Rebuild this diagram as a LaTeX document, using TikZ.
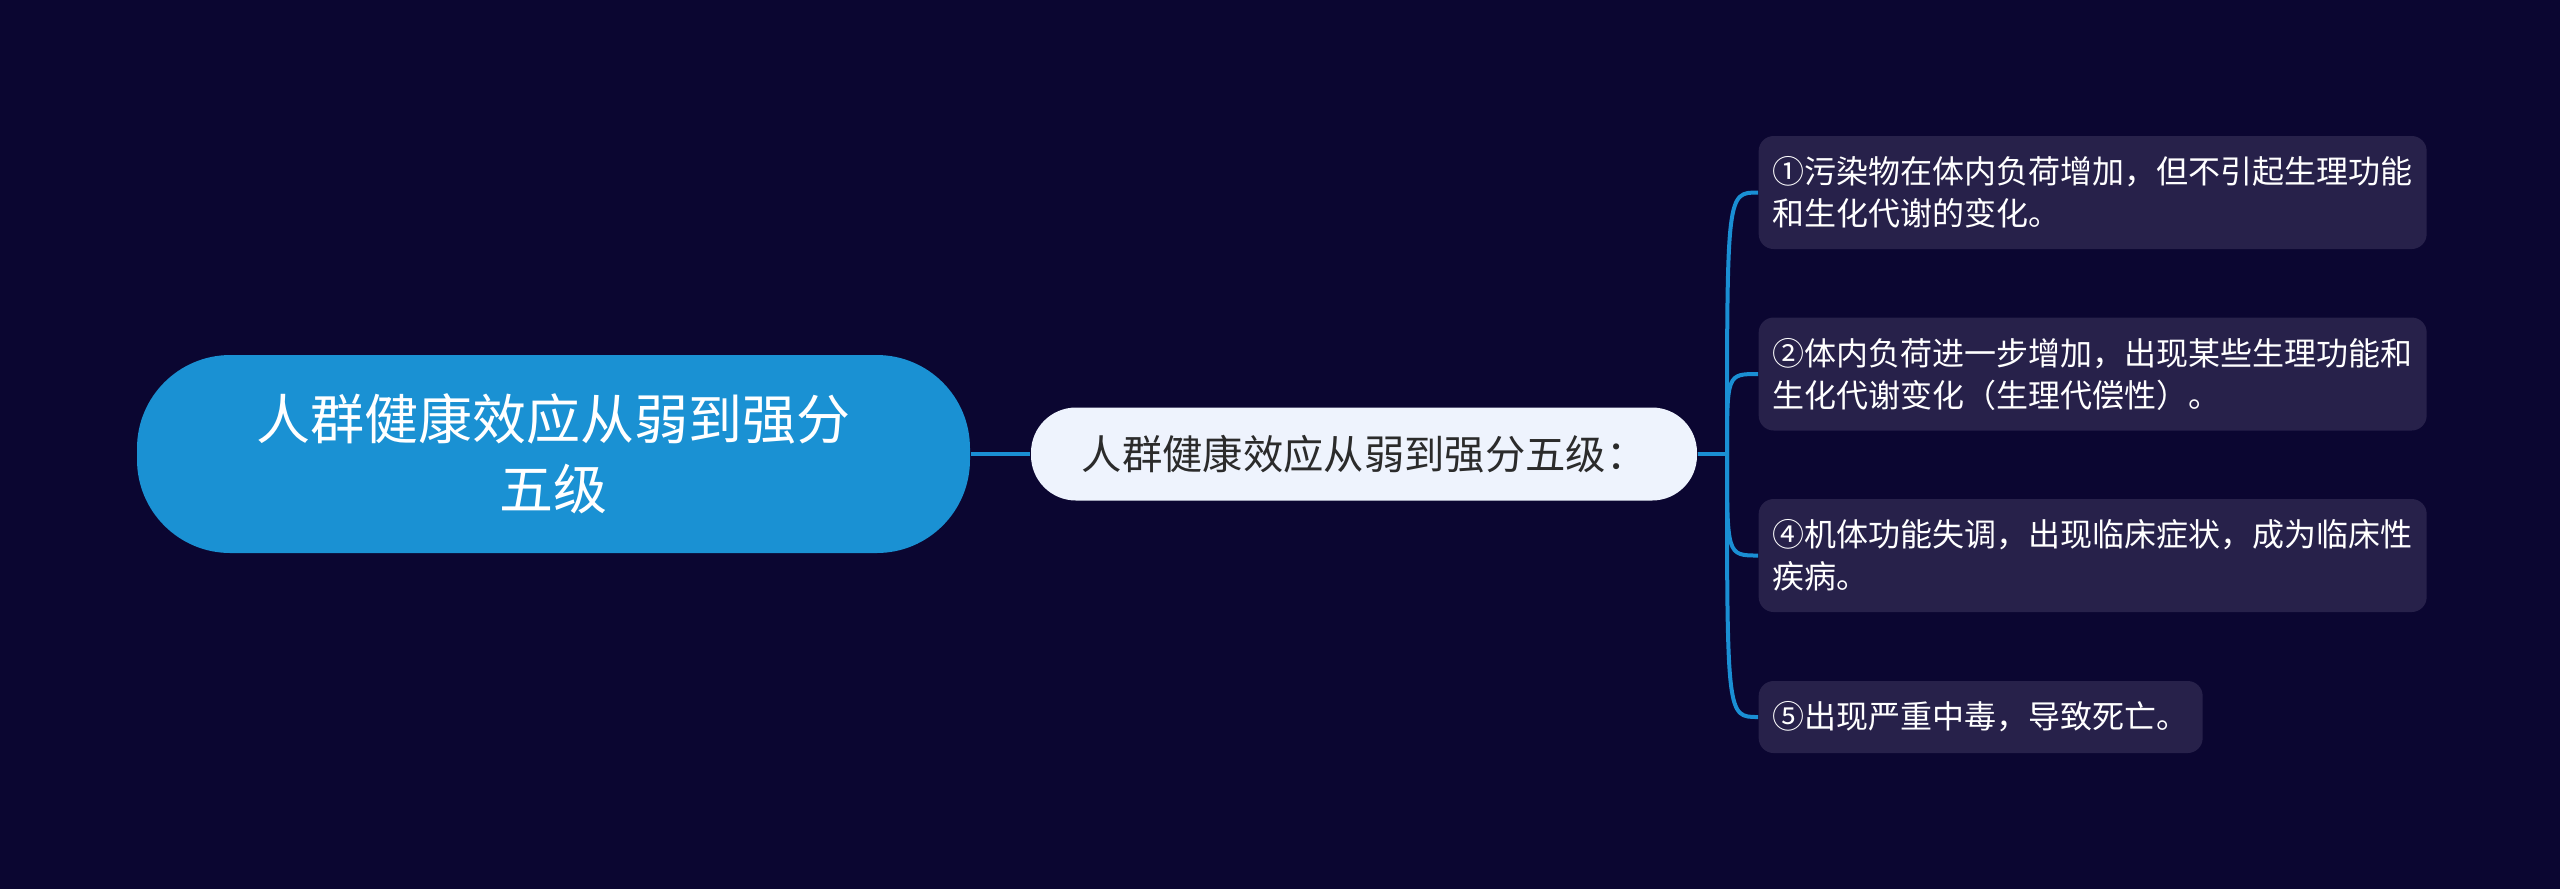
\documentclass[tikz,border=0pt]{standalone}
\usepackage{fontspec}
\setmainfont{Noto Sans CJK SC}
\definecolor{bgdark}{HTML}{0B0631}
\definecolor{rootblue}{HTML}{1A91D3}
\definecolor{linkblue}{HTML}{1A8FD4}
\definecolor{midfill}{HTML}{EEF3FD}
\definecolor{midtext}{HTML}{2B2B2B}
\definecolor{leaffill}{HTML}{27214A}
\begin{document}
\begin{tikzpicture}[x=0.3pt,y=-0.3pt,
  rootnode/.style={fill=rootblue,text=white,rounded corners=28pt,inner sep=0pt,
    minimum width=249.9pt,minimum height=59.4pt,align=center,
    font=\fontsize{16.2pt}{21pt}\selectfont},
  midnode/.style={fill=midfill,text=midtext,rounded corners=13.5pt,inner sep=0pt,
    minimum width=199.8pt,minimum height=27.9pt,
    font=\fontsize{12.1pt}{14pt}\selectfont},
  leafnode/.style={fill=leaffill,text=white,rounded corners=4.5pt,anchor=west,
    inner xsep=4.2pt,minimum height=33.9pt,align=left,
    font=\fontsize{9.6pt}{12.6pt}\selectfont},
  link/.style={linkblue,line width=1.2pt}]
\fill[bgdark] (0,0) rectangle (2560,889);
\node[rootnode] (root) at (553.5,454) {人群健康效应从弱到强分\\五级};
\node[midnode] (mid) at (1364,454) {人群健康效应从弱到强分五级：};
\coordinate (hub) at (1727,454);
\node[leafnode] (leafa) at (1758,192.5) {①污染物在体内负荷增加，但不引起生理功能\\和生化代谢的变化。};
\node[leafnode] (leafb) at (1758,374) {②体内负荷进一步增加，出现某些生理功能和\\生化代谢变化（生理代偿性）。};
\node[leafnode] (leafd) at (1758,555.5) {④机体功能失调，出现临床症状，成为临床性\\疾病。};
\node[leafnode,minimum height=21.6pt] (leafe) at (1758,717) {⑤出现严重中毒，导致死亡。};

\draw[link] (root) -- (mid);
\draw[link] (mid) -- (hub);
\draw[link] (hub) .. controls (hub |- leafa.west) .. (leafa.west);
\draw[link] (hub) .. controls (hub |- leafb.west) .. (leafb.west);
\draw[link] (hub) .. controls (hub |- leafd.west) .. (leafd.west);
\draw[link] (hub) .. controls (hub |- leafe.west) .. (leafe.west);
\end{tikzpicture}
\end{document}
